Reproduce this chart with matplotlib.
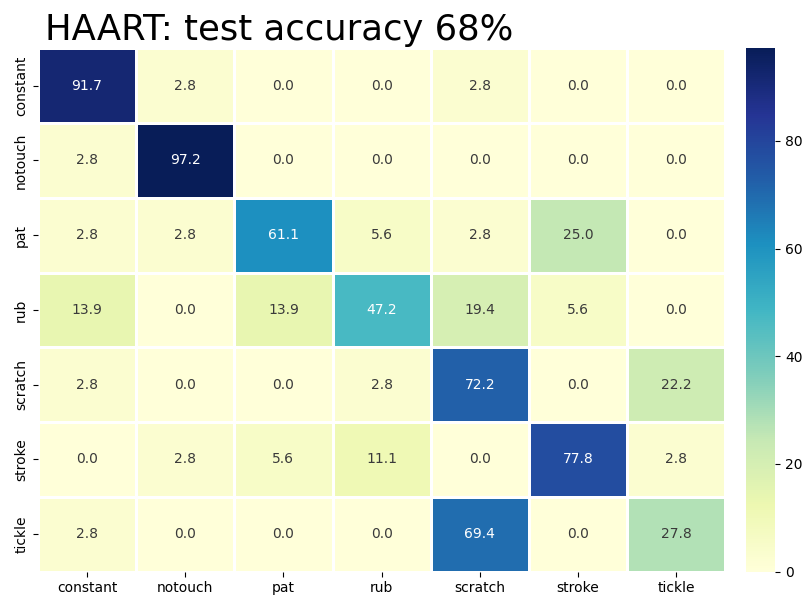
import matplotlib

matplotlib.use("Agg")
import matplotlib.pyplot as plt
import numpy as np
import seaborn as sns

labels = ["constant", "notouch", "pat", "rub", "scratch", "stroke", "tickle"]

row_constant = [91.7, 2.8, 0.0, 0.0, 2.8, 0.0, 0.0]
row_notouch = [2.8, 97.2, 0.0, 0.0, 0.0, 0.0, 0.0]
row_pat = [2.8, 2.8, 61.1, 5.6, 2.8, 25.0, 0.0]
row_rub = [13.9, 0.0, 13.9, 47.2, 19.4, 5.6, 0.0]
row_scratch = [2.8, 0.0, 0.0, 2.8, 72.2, 0.0, 22.2]
row_stroke = [0.0, 2.8, 5.6, 11.1, 0.0, 77.8, 2.8]
row_tickle = [2.8, 0.0, 0.0, 0.0, 69.4, 0.0, 27.8]

cm = np.array([row_constant, row_notouch, row_pat, row_rub,
               row_scratch, row_stroke, row_tickle])

fig = plt.figure(figsize=(8.06, 6.03), dpi=100)
ax = fig.add_axes([0.047, 0.052, 0.853, 0.868])
cax = fig.add_axes([0.925, 0.052, 0.037, 0.868])

sns.heatmap(cm, annot=True, fmt=".1f", cmap="YlGnBu", vmin=0,
            linewidths=0.8, linecolor="white",
            xticklabels=labels, yticklabels=labels,
            ax=ax, cbar_ax=cax, annot_kws={"fontsize": 10})
for t in ax.texts:
    if t.get_color() != "w" and t.get_color() != "white":
        t.set_color("#3a3a3a")
ax.set_title("HAART: test accuracy 68%", loc="left", fontsize=25.5, x=0.01, pad=6)
ax.tick_params(labelsize=10)
cax.tick_params(labelsize=10)
cax.set_yticks([0, 20, 40, 60, 80])

fig.savefig("out.png", dpi=100)
